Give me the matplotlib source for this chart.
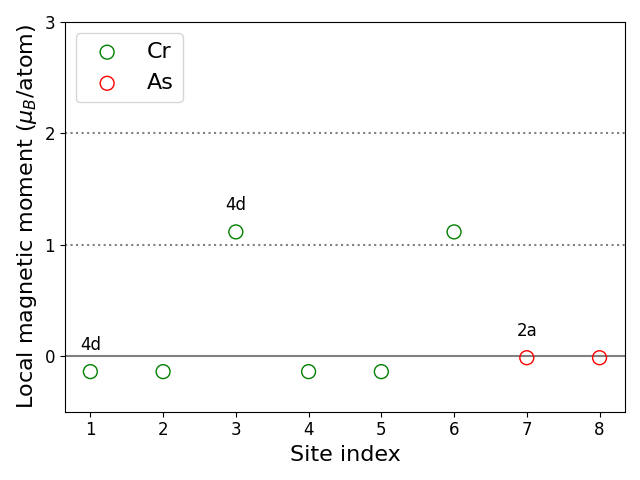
import matplotlib
matplotlib.use("Agg")
import matplotlib.pyplot as plt

cr_sites = [1, 2, 3, 4, 5, 6]
cr_moments = [-0.14, -0.14, 1.115, -0.14, -0.14, 1.115]
as_sites = [7, 8]
as_moments = [-0.015, -0.015]
labels = [(1, -0.14, "4d"), (3, 1.115, "4d"), (7, -0.015, "2a")]

fig, ax = plt.subplots(figsize=(6.4, 4.8), dpi=100)
ax.axhline(0, color="gray", lw=1.5)
ax.axhline(1, color="gray", ls=":", lw=1.5)
ax.axhline(2, color="gray", ls=":", lw=1.5)
ax.scatter(cr_sites, cr_moments, s=100, facecolors="none", edgecolors="green", label="Cr", zorder=3)
ax.scatter(as_sites, as_moments, s=100, facecolors="none", edgecolors="red", label="As", zorder=3)
for x, y, t in labels:
    ax.text(x, y + 0.24, t, ha="center", va="center", fontsize=12)
ax.set_ylim(-0.5, 3)
ax.set_yticks([0, 1, 2, 3])
ax.set_xticks(range(1, 9))
ax.tick_params(labelsize=12)
ax.set_xlabel("Site index", fontsize=16)
ax.set_ylabel(r"Local magnetic moment ($\mu_B$/atom)", fontsize=16)
ax.legend(fontsize=16, loc="upper left")
fig.tight_layout()
fig.savefig("out.png")
